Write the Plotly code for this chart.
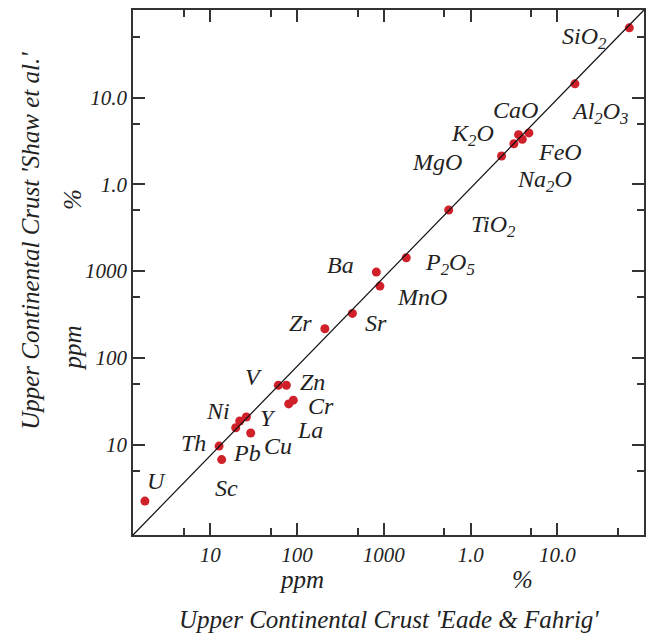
import math
import plotly.graph_objects as go

# ---- data ----
names = ["U", "Th", "Sc", "Pb", "Ni", "Y", "Cu", "V", "Zn", "La", "Cr",
         "Zr", "Sr", "Ba", "MnO", "P2O5", "TiO2", "MgO", "K2O", "Na2O",
         "CaO", "FeO", "Al2O3", "SiO2"]
label_text = ["U", "Th", "Sc", "Pb", "Ni", "Y", "Cu", "V", "Zn", "La", "Cr",
              "Zr", "Sr", "Ba", "MnO", "P<sub>2</sub>O<sub>5</sub>", "TiO<sub>2</sub>",
              "MgO", "K<sub>2</sub>O", "Na<sub>2</sub>O", "CaO", "FeO",
              "Al<sub>2</sub>O<sub>3</sub>", "SiO<sub>2</sub>"]
# values in ppm (1 % = 10000 ppm)
eade_fahrig = [1.76, 12.6, 13.5, 19.6, 21.8, 26.0, 29.2, 60.8, 75.2, 80.0, 90.5,
               209, 434, 820, 902, 1815, 5600, 22800, 31600, 39500,
               35800, 47100, 160000, 677000]
shaw = [2.23, 9.6, 6.7, 15.6, 18.7, 20.8, 13.6, 48.3, 48.3, 29.4, 32.5,
        216, 325, 974, 671, 1424, 5058, 21200, 29400, 33100,
        37400, 39200, 144000, 637000]

major_vals = [10, 100, 1000, 10000, 100000]
major_text = ["10", "100", "1000", "1.0", "10.0"]
minor_vals = [5, 50, 500, 5000, 50000, 500000]

# ---- styling: label offsets in px (dx right, dy down) ----
label_offsets = {
    "SiO2": (-45, 10), "Al2O3": (25, 29), "CaO": (-3, -25), "K2O": (-41, -9),
    "MgO": (-65, 6), "FeO": (31, 19), "Na2O": (22, 42), "TiO2": (45, 16),
    "P2O5": (44, 6), "Ba": (-36, -7), "MnO": (42, 11), "Zr": (-24, -6),
    "Sr": (24, 10), "V": (-25, -8), "Zn": (26, -3), "Cr": (28, 6),
    "La": (21, 26), "Ni": (-22, -10), "Y": (22, 1), "Cu": (27, 13),
    "Pb": (11, 25), "Th": (-26, -3), "Sc": (5, 28), "U": (12, -20),
}

FONT = "Liberation Serif"
TXT = "#222222"
AX = "#333333"

fig = go.Figure()
fig.add_trace(go.Scatter(
    x=eade_fahrig, y=shaw, mode="markers",
    marker=dict(color="#d0202a", size=9),
    hoverinfo="skip", showlegend=False,
))

# 1:1 line across the plot area
fig.add_shape(type="line", xref="x domain", yref="y domain",
              x0=0, y0=0, x1=1, y1=1, line=dict(color="#111111", width=1.2))

# on log axes, annotation positions are given in log10 units
for n, t, xv, yv in zip(names, label_text, eade_fahrig, shaw):
    dx, dy = label_offsets[n]
    fig.add_annotation(x=math.log10(xv), y=math.log10(yv), xref="x", yref="y",
                       text=f"<i>{t}</i>", showarrow=False, xshift=dx, yshift=-dy,
                       borderpad=0,
                       font=dict(family=FONT, size=24, color=TXT))

axis_common = dict(
    type="log", tickmode="array", tickvals=major_vals,
    ticktext=[f"<i>{s}</i>" for s in major_text],
    ticks="inside", ticklen=12, tickwidth=1.5, tickcolor=AX,
    showline=True, linecolor=AX, linewidth=1.5, mirror="allticks",
    showgrid=False, zeroline=False, automargin=False,
    tickfont=dict(family=FONT, size=21, color=TXT),
    minor=dict(tickmode="array", tickvals=minor_vals, ticks="inside",
               ticklen=7, tickwidth=1.5, tickcolor=AX, showgrid=False),
)

fig.update_xaxes(range=[0.108, 6.0], **axis_common)
fig.update_yaxes(range=[-0.043, 6.01], **axis_common)

# axis titles and unit labels
ann_font = dict(family=FONT, size=25, color=TXT)
fig.add_annotation(xref="paper", yref="paper", x=0.5, y=-0.16, yanchor="middle",
                   text="<i>Upper Continental Crust 'Eade &amp; Fahrig'</i>",
                   showarrow=False, font=ann_font)
fig.add_annotation(xref="x", yref="paper", x=2, y=-0.085, yanchor="middle",
                   text="<i>ppm</i>", showarrow=False, font=ann_font, xshift=4)
fig.add_annotation(xref="x", yref="paper", x=4, y=-0.085, yanchor="middle",
                   text="<i>%</i>", showarrow=False, font=ann_font, xshift=52)
fig.add_annotation(xref="paper", yref="paper", x=-0.2, y=0.56, xanchor="center",
                   text="<i>Upper Continental Crust 'Shaw et al.'</i>",
                   showarrow=False, font=ann_font, textangle=-90)
fig.add_annotation(xref="paper", yref="y", x=-0.118, y=2, xanchor="center",
                   text="<i>ppm</i>", showarrow=False, font=ann_font, textangle=-90,
                   yshift=10)
fig.add_annotation(xref="paper", yref="y", x=-0.118, y=4, xanchor="center",
                   text="<i>%</i>", showarrow=False, font=ann_font, textangle=-90,
                   yshift=-15)

fig.update_layout(
    width=650, height=637,
    margin=dict(l=133, r=6, t=10, b=102),
    paper_bgcolor="white", plot_bgcolor="white",
    font=dict(family=FONT, color=TXT),
)

fig.write_html("out.html",
               config={"displayModeBar": False},
               post_script="document.body.style.margin='0px';"
                           "document.body.style.overflow='hidden';")
